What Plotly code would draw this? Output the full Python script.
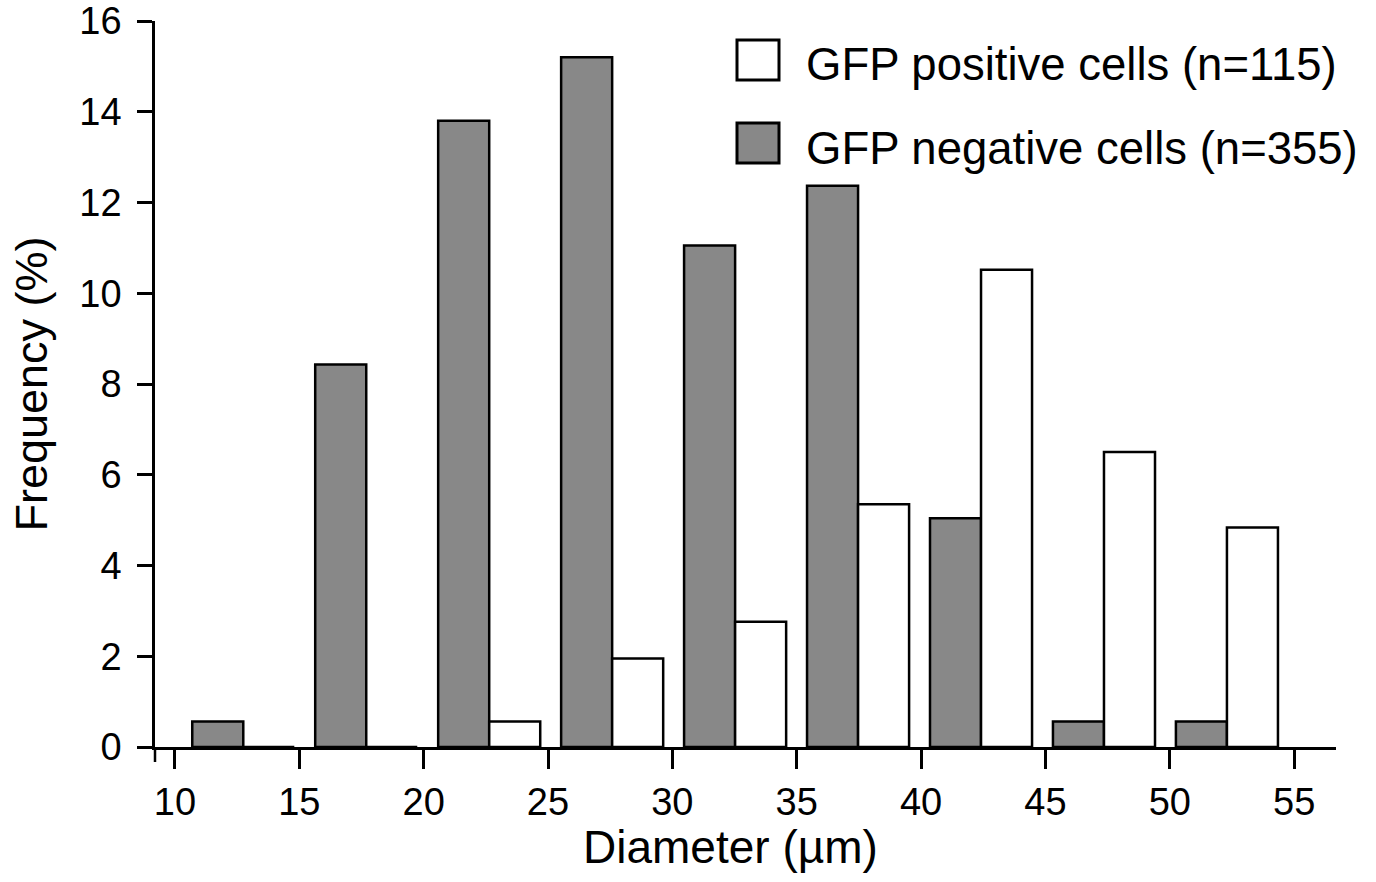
import plotly.graph_objects as go

# ---- data ----
bins = ["10-15", "15-20", "20-25", "25-30", "30-35", "35-40", "40-45", "45-50", "50-55"]
gfp_negative = [0.56, 8.43, 13.8, 15.2, 11.05, 12.37, 5.04, 0.56, 0.56]
gfp_positive = [0.0, 0.0, 0.56, 1.95, 2.76, 5.35, 10.52, 6.5, 4.84]
x_ticks = [10, 15, 20, 25, 30, 35, 40, 45, 50, 55]
y_ticks = [0, 2, 4, 6, 8, 10, 12, 14, 16]
legend_labels = ["GFP positive cells (n=115)", "GFP negative cells (n=355)"]
x_title = "Diameter (µm)"
y_title = "Frequency (%)"

FONT = "Liberation Sans, Arial, Helvetica, sans-serif"
GRAY = "#888888"
LINE = "#000000"

fig = go.Figure()
fig.add_trace(go.Bar(x=bins, y=gfp_negative, name=legend_labels[1],
                     marker=dict(color=GRAY, line=dict(color=LINE, width=2.5)),
                     xaxis="x", yaxis="y", showlegend=False))
fig.add_trace(go.Bar(x=bins, y=gfp_positive, name=legend_labels[0],
                     marker=dict(color="white", line=dict(color=LINE, width=2.5)),
                     xaxis="x", yaxis="y", showlegend=False))
# empty trace so the numeric diameter axis is drawn
fig.add_trace(go.Scatter(x=[], y=[], xaxis="x2", yaxis="y", showlegend=False,
                         hoverinfo="skip"))

L, R, T, B = 155, 40, 21, 135
W, H = 1376, 882
pw = W - L - R
ph = H - T - B

def px(x):
    return (x - L) / pw

def py(y):
    return (H - B - y) / ph

# manual legend
shapes = []
annotations = []
for i, (lab, fill) in enumerate(zip(legend_labels, ["white", GRAY])):
    cy = 60 + 83 * i
    shapes.append(dict(type="rect", xref="paper", yref="paper",
                       x0=px(737), x1=px(779), y0=py(cy + 20), y1=py(cy - 20),
                       fillcolor=fill, line=dict(color=LINE, width=3)))
    annotations.append(dict(text=lab, xref="paper", yref="paper",
                            x=px(804), y=py(cy + 5), xanchor="left", yanchor="middle",
                            showarrow=False, font=dict(family=FONT, size=45.5, color="black")))

# x-axis title
annotations.append(dict(text=x_title, xref="paper", yref="paper",
                        x=px(730.5), y=py(847), xanchor="center", yanchor="middle",
                        showarrow=False, font=dict(family=FONT, size=46, color="black")))

# y-axis line extension below origin
shapes.append(dict(type="line", xref="paper", yref="paper", x0=0, x1=0,
                   ysizemode="pixel", yanchor=0, y0=0, y1=-15,
                   line=dict(color=LINE, width=2.5)))

fig.update_layout(
    width=W, height=H,
    margin=dict(l=L, r=R, t=T, b=B, autoexpand=False),
    paper_bgcolor="white", plot_bgcolor="white",
    barmode="group", bargap=0.17, bargroupgap=0.0,
    showlegend=False,
    font=dict(family=FONT, color="black"),
    xaxis=dict(type="category", range=[-0.718, 8.887], visible=False,
               showgrid=False, zeroline=False, automargin=False),
    xaxis2=dict(overlaying="x", anchor="y", side="bottom",
                range=[9.2, 56.68], tickmode="array", tickvals=x_ticks,
                ticks="outside", ticklen=19, tickwidth=2.5, tickcolor=LINE,
                showline=True, linecolor=LINE, linewidth=3,
                showgrid=False, zeroline=False, automargin=False,
                tickfont=dict(family=FONT, size=38, color="black")),
    yaxis=dict(range=[0, 16], tickmode="array", tickvals=y_ticks,
               ticks="outside", ticklen=15, tickwidth=2.5, tickcolor=LINE,
               showline=True, linecolor=LINE, linewidth=2.5,
               showgrid=False, zeroline=False, automargin=False,
               ticklabelstandoff=8,
               tickfont=dict(family=FONT, size=38, color="black"),
               title=dict(text=y_title, standoff=18,
                          font=dict(family=FONT, size=45, color="black"))),
    shapes=shapes, annotations=annotations,
)

fig.write_html("out.html")
